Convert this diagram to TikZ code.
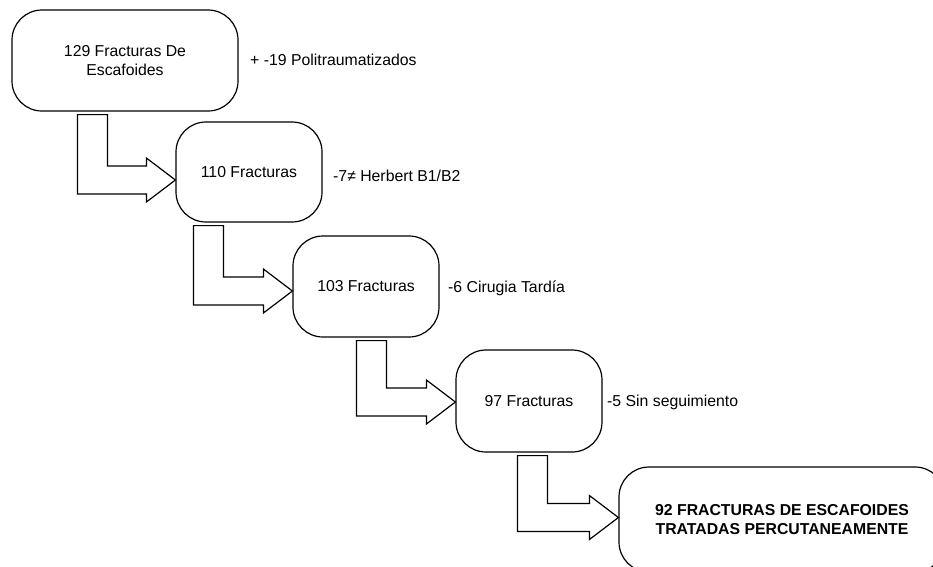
\documentclass[tikz,border=0pt]{standalone}
\usepackage{fontspec}
\setmainfont{Liberation Sans}
\usetikzlibrary{calc}
\tikzset{
  box/.style={draw, line width=1.2pt, rounded corners=30pt, align=center, inner sep=0pt},
  lbl/.style={anchor=west, inner sep=0pt},
  blockarrow/.style={draw, line width=1.2pt, fill=white, line join=miter},
}
% #1 source, #2 target, #3 offset of outer x from source west, #4 tip shift (down)
\newcommand\bentarrow[4]{%
  \draw[blockarrow] let \p1=(#1.south west), \p2=($(#2.west)+(0,#4)$) in
    (\x1+#3, \y1-3pt) -- (\x1+#3+30pt, \y1-3pt) -- (\x1+#3+30pt, \y2+14pt)
    -- (\x2-29pt, \y2+14pt) -- (\x2-29pt, \y2+22pt) -- (\x2, \y2)
    -- (\x2-29pt, \y2-22pt) -- (\x2-29pt, \y2-14pt) -- (\x1+#3, \y2-14pt) -- cycle;
}
\begin{document}
\begin{tikzpicture}[x=1pt, y=-1pt, font=\fontsize{15.8}{19}\selectfont]
\useasboundingbox (0,0) rectangle (933,566);
\clip (0,0) rectangle (933,566);

\node[box, minimum width=226pt, minimum height=101pt] (b1) at (125,60.5) {129 Fracturas De\\Escafoides};
\node[box, minimum width=146pt, minimum height=100pt] (b2) at (249,172) {110 Fracturas};
\node[box, minimum width=146pt, minimum height=101pt] (b3) at (366,286.5) {103 Fracturas};
\node[box, minimum width=146pt, minimum height=102pt] (b4) at (529,401) {97 Fracturas};
\node[box, minimum width=326pt, minimum height=105pt, font=\fontsize{15.8}{19}\selectfont\bfseries] (b5) at (782,519.5) {92 FRACTURAS DE ESCAFOIDES\\TRATADAS PERCUTANEAMENTE};

\node[lbl] (l1) at (250,60) {+ -19 Politraumatizados};
\node[lbl] (l2) at (333,176) {-7≠ Herbert B1/B2};
\node[lbl] (l3) at (448,288) {-6 Cirugia Tardía};
\node[lbl] (l4) at (607,402) {-5 Sin seguimiento};

\bentarrow{b1}{b2}{66pt}{-8pt}
\bentarrow{b2}{b3}{18pt}{-4.5pt}
\bentarrow{b3}{b4}{64pt}{-1pt}
\bentarrow{b4}{b5}{62pt}{2pt}
\end{tikzpicture}
\end{document}
